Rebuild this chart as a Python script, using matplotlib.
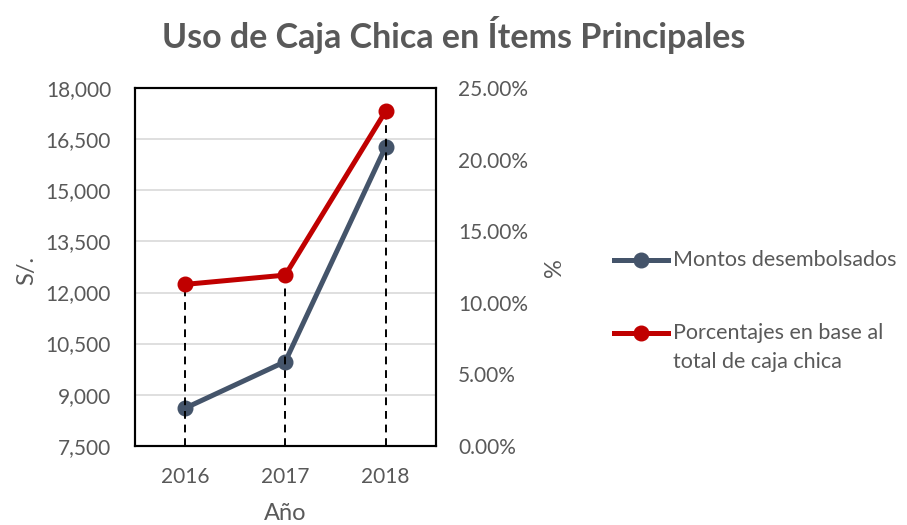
import matplotlib
matplotlib.use("Agg")
from matplotlib import pyplot as plt
from matplotlib.lines import Line2D
from matplotlib.ticker import FuncFormatter

plt.rcParams['font.family'] = ['Lato', 'DejaVu Sans']

# datos
anios = ["2016", "2017", "2018"]
montos = [8600, 9970, 16280]
porcentajes = [11.28, 11.93, 23.39]   # en %
etiquetas = ["Montos desembolsados", "Porcentajes en base al\ntotal de caja chica"]

azul = "#44546A"
rojo = "#C00000"
gris = "#595959"

fig = plt.figure(figsize=(9.07, 5.25), dpi=100)
ax = fig.add_axes([0.1485, 0.151, 0.332, 0.681])
ax2 = ax.twinx()

x = range(len(anios))

ax.plot(x, montos, color=azul, lw=3.6, marker="o", ms=10.5, zorder=3)
ax2.plot(x, porcentajes, color=rojo, lw=3.6, marker="o", ms=10.5, zorder=3)
# lineas de proyeccion
ax2.vlines(x, 0, porcentajes, colors="black", linestyles=(0, (4, 3)), lw=1.4, zorder=2)

ax.set_ylim(7500, 18000)
ax.set_yticks(range(7500, 18001, 1500))
ax.yaxis.set_major_formatter(FuncFormatter(lambda v, p: f"{int(v):,}"))
ax2.set_ylim(0, 25)
ax2.set_yticks([0, 5, 10, 15, 20, 25])
ax2.yaxis.set_major_formatter(FuncFormatter(lambda v, p: f"{v:.2f}%"))
ax.set_xlim(-0.5, 2.5)
ax.set_xticks(list(x))
ax.set_xticklabels(anios)

ax.grid(axis="y", color="#D9D9D9", lw=1.2)
ax.set_axisbelow(True)
for a in (ax, ax2):
    for s in a.spines.values():
        s.set_color("black")
        s.set_linewidth(1.5)
ax.tick_params(axis="both", length=0, labelsize=15, labelcolor=gris)
ax.tick_params(axis="y", pad=17)
ax.tick_params(axis="x", pad=15)
ax2.tick_params(axis="y", length=0, labelsize=15, labelcolor=gris, pad=16)

fig.text(27/907, 1 - 270/525, "S/.", rotation=90, ha="center", va="center", fontsize=17, color=gris)
fig.text(555/907, 1 - 268/525, "%", rotation=90, ha="center", va="center", fontsize=17, color=gris)
fig.text(285/907, 1 - 513/525, "Año", ha="center", va="center", fontsize=17, color=gris)

fig.suptitle("Uso de Caja Chica en Ítems Principales", x=0.5, y=1 - 35/525, va="center",
             fontsize=24.5, fontweight="bold", color=gris)

# leyenda manual
for col, lab, yy in zip([azul, rojo], etiquetas, [260, 333]):
    fy = 1 - yy / 525
    fig.add_artist(Line2D([614/907, 668/907], [fy, fy], color=col, lw=3.6,
                          transform=fig.transFigure))
    fig.add_artist(Line2D([641/907], [fy], color=col, marker="o", ms=10.5,
                          transform=fig.transFigure))
    for i, linea in enumerate(lab.split("\n")):
        fig.text(673/907, 1 - (yy + 29 * i) / 525, linea, ha="left", va="center",
                 fontsize=15.5, color=gris)

fig.savefig("out.png", dpi=100)
